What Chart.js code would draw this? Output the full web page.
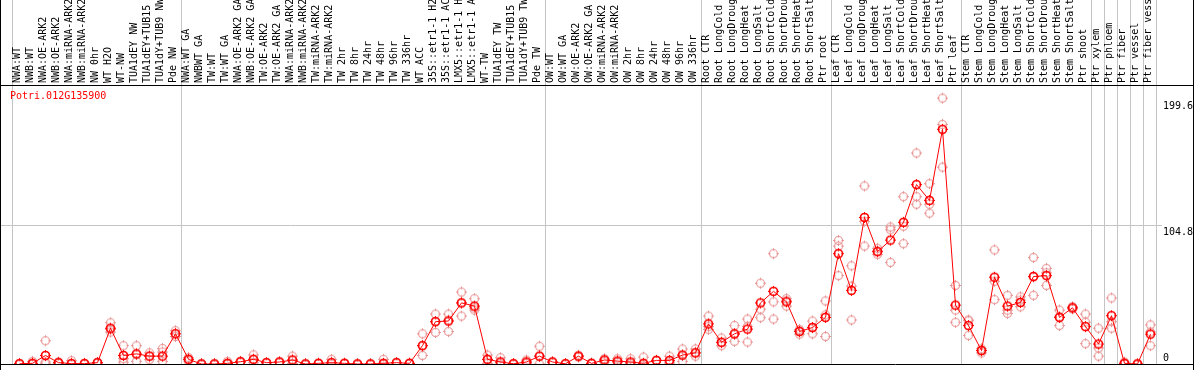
<!DOCTYPE html>
<html>
<head>
<meta charset="utf-8">
<script src="https://cdn.jsdelivr.net/npm/chart.js@4.4.1/dist/chart.umd.min.js"></script>
<style>
  body { margin: 0; background: #fff; }
  canvas { display: block; }
</style>
</head>
<body>
<canvas id="chart" width="1194" height="370"></canvas>
<script>
// sample names along the top
const categories = [
  'NWA:WT', 'NWB:WT', 'NWA:OE-ARK2', 'NWB:OE-ARK2', 'NWA:miRNA-ARK2', 'NWB:miRNA-ARK2', 'NW 0hr', 'WT H2O', 'WT-NW',
  'TUA1dEY NW', 'TUA1dEY+TUB15 NW', 'TUA1dY+TUB9 NW', 'Pde NW',
  'NWA:WT GA', 'NWBWT GA', 'TW:WT', 'TW:WT GA', 'NWA:OE-ARK2 GA', 'NWB:OE-ARK2 GA', 'TW:OE-ARK2', 'TW:OE-ARK2 GA',
  'NWA:miRNA-ARK2', 'NWB:miRNA-ARK2', 'TW:miRNA-ARK2', 'TW:miRNA-ARK2', 'TW 2hr', 'TW 8hr', 'TW 24hr', 'TW 48hr',
  'TW 96hr', 'TW 336hr', 'WT ACC', '35S::etr1-1 H2O', '35S::etr1-1 ACC', 'LMX5::etr1-1 H2O', 'LMX5::etr1-1 ACC',
  'WT-TW', 'TUA1dEY TW', 'TUA1dEY+TUB15 TW', 'TUA1dY+TUB9 TW', 'Pde TW',
  'OW:WT', 'OW:WT GA', 'OW:OE-ARK2', 'OW:OE-ARK2 GA', 'OW:miRNA-ARK2', 'OW:miRNA-ARK2', 'OW 2hr', 'OW 8hr', 'OW 24hr',
  'OW 48hr', 'OW 96hr', 'OW 336hr',
  'Root CTR', 'Root LongCold', 'Root LongDrought', 'Root LongHeat', 'Root LongSalt', 'Root ShortCold',
  'Root ShortDrought', 'Root ShortHeat', 'Root ShortSalt', 'Ptr root',
  'Leaf CTR', 'Leaf LongCold', 'Leaf LongDrought', 'Leaf LongHeat', 'Leaf LongSalt', 'Leaf ShortCold',
  'Leaf ShortDrought', 'Leaf ShortHeat', 'Leaf ShortSalt', 'Ptr leaf',
  'Stem CTR', 'Stem LongCold', 'Stem LongDrought', 'Stem LongHeat', 'Stem LongSalt', 'Stem ShortCold',
  'Stem ShortDrought', 'Stem ShortHeat', 'Stem ShortSalt', 'Ptr shoot',
  'Ptr xylem', 'Ptr phloem', 'Ptr fiber', 'Ptr vessel', 'Ptr fiber vessel'
];

// index where each grey separator line sits (before that sample)
const groupStarts = [0, 13, 41, 53, 63, 73, 83, 84, 85, 86, 87, 88];

// mean expression
const meanValues = [
  0.2, 0.5, 6.4, 1, 0.3, 0.3, 1, 26.9, 6.4, 7.6, 5.9, 5.9, 22.7,
  3.5, 0, 0, 0.5, 1.7, 3.5, 1, 1.5, 3, 0, 0.5, 1, 0.5, 0, 0, 0.5, 1, 0.5, 13.8, 31.8, 32.3, 45.9, 43.5, 3.5, 1.5, 0.2, 1.5, 5.9,
  1.5, 0.2, 5.9, 0.5, 3, 2.2, 1.5, 0.5, 2.7, 2.7, 6.7, 8.4,
  30.1, 16.3, 22.7, 26.2, 45.9, 54.6, 46.7, 24.4, 27.4, 35,
  82.9, 55.3, 110.1, 84.4, 93.1, 106.4, 134.8, 122.9, 176.3, 44.2,
  28.9, 10.1, 65.2, 43.5, 46.2, 65.7, 66.4, 35, 42.2, 28.1,
  15, 36.3, 0.5, 0, 22.4
];

// replicates
const rep1 = [
  0.3, 2, 17.5, 1.5, 2.5, 0.5, 1.2, 31, 13.8, 13.8, 8.4, 11.6, 25,
  4.8, 0, 0, 2, 2, 6.9, 1, 1.5, 5.9, 0, 0.5, 3.5, 0.5, 0, 0, 3.5, 1, 0.5, 22.7, 37.5, 37.5, 54, 49.1, 6.7, 4.7, 0.2, 3, 13.3,
  1.5, 0.2, 6.5, 0.5, 3.9, 3.9, 3.9, 5.2, 2.7, 5.9, 11.3, 11.3,
  36, 19.5, 28.9, 33.8, 60.7, 82.9, 49.1, 26, 32.3, 47.4,
  92.8, 73.8, 133.8, 86.9, 102.9, 125.7, 158.5, 135.5, 199.7, 59,
  33.1, 11.5, 85.7, 51.6, 50.4, 80, 71.8, 40.5, 43, 37.5,
  26.9, 49.6, 1.5, 0, 29.4
];
const rep2 = [
  0, 0, 1.5, 1, 0, 0, 1, 26, 4, 7, 6, 9, 22.7,
  3.5, 0, 0, 0, 1.7, 3.5, 1, 1.5, 3, 0, 0.5, 1, 0.5, 0, 0, 0, 1, 0.5, 13.8, 31.8, 33, 46, 42, 3.5, 1.5, 0.2, 1.5, 5.9,
  1.5, 0.2, 5.9, 0.5, 3, 1.5, 0.5, 0.5, 2.7, 1.5, 6.7, 8.4,
  28.1, 16, 22.2, 28.3, 41.2, 46.7, 47.5, 25, 27.4, 36.9,
  88.6, 58.5, 107.2, 84.9, 100.9, 103.5, 125.7, 120, 180, 40.5,
  32.5, 10.1, 62.2, 40.5, 48, 65.5, 68.5, 35.5, 42.2, 31.5,
  12, 31.8, 0.5, 0, 24
];
const rep3 = [
  0.2, 0, 0.2, 0.5, 0, 0.3, 0.8, 24, 1.4, 2, 3.3, 2, 20.7,
  2.2, 0, 0, 0, 1.4, 1, 1, 1.5, 0.5, 0, 0.5, 0, 0.5, 0, 0, 0, 1, 0.5, 6.4, 23.7, 24.4, 36, 40.5, 0.5, 0, 0.2, 0.5, 0,
  1.5, 0.2, 5.3, 0.5, 1.5, 1.2, 0.2, 0, 2.7, 0.7, 2, 5.9,
  26, 13.8, 17, 16.5, 34.8, 33.8, 43.5, 22.4, 22.7, 20.7,
  66.4, 33.1, 88.6, 82.4, 76.3, 90.4, 120, 113.3, 147.9, 31.3,
  21.5, 8.4, 48.4, 38, 43, 51.6, 59, 28.9, 41.4, 15.3,
  5.9, 26.9, 0, 0, 13.8
];

const yTicks = [0, 104.8, 199.6];
const geneName = 'Potri.012G135900';

const font = '10px "DejaVu Sans Mono", monospace';

// small ring with four ticks, used as point style
function makeMarker(color, lw) {
  const c = document.createElement('canvas');
  c.width = 13;
  c.height = 13;
  const g = c.getContext('2d');
  g.strokeStyle = color;
  g.lineWidth = lw;
  g.beginPath();
  g.arc(6.5, 6.5, 4, 0, Math.PI * 2);
  g.stroke();
  g.lineWidth = 1;
  g.beginPath();
  g.moveTo(6.5, 1); g.lineTo(6.5, 3.5);
  g.moveTo(6.5, 9.5); g.lineTo(6.5, 12);
  g.moveTo(1, 6.5); g.lineTo(3.5, 6.5);
  g.moveTo(9.5, 6.5); g.lineTo(12, 6.5);
  g.stroke();
  return c;
}

const meanMarker = makeMarker('#ff0000', 1.6);
const repMarker = makeMarker('#e99494', 1.1);

const framePlugin = {
  id: 'frame',
  beforeDatasetsDraw(chart) {
    const ctx = chart.ctx;
    const xs = chart.scales.x;
    const ys = chart.scales.y;
    const area = chart.chartArea;
    const colW = xs.getPixelForValue(1) - xs.getPixelForValue(0);
    const x0 = xs.getPixelForValue(0) - 8;

    ctx.save();
    ctx.strokeStyle = '#c4c4c4';
    ctx.lineWidth = 1;
    // vertical separators
    groupStarts.forEach(k => {
      const x = Math.round(x0 + colW * k) + 0.5;
      ctx.beginPath();
      ctx.moveTo(x, 0);
      ctx.lineTo(x, area.bottom);
      ctx.stroke();
    });
    // middle grid line
    const ym = Math.ceil(ys.getPixelForValue(104.8)) + 0.5;
    ctx.beginPath();
    ctx.moveTo(0, ym);
    ctx.lineTo(1162, ym);
    ctx.stroke();
    ctx.restore();
  },
  afterDatasetsDraw(chart) {
    const ctx = chart.ctx;
    const xs = chart.scales.x;
    const ys = chart.scales.y;
    const area = chart.chartArea;
    const W = chart.width;

    ctx.save();
    // frame lines
    ctx.strokeStyle = '#000';
    ctx.lineWidth = 1;
    ctx.beginPath();
    ctx.moveTo(0, area.top + 0.5); ctx.lineTo(W, area.top + 0.5);
    ctx.moveTo(0, area.bottom + 0.5); ctx.lineTo(W, area.bottom + 0.5);
    ctx.moveTo(0.5, 0); ctx.lineTo(0.5, chart.height);
    ctx.moveTo(W - 0.5, 0); ctx.lineTo(W - 0.5, chart.height);
    ctx.stroke();

    // sample labels, rotated
    ctx.font = font;
    ctx.fillStyle = '#000';
    ctx.textAlign = 'left';
    ctx.textBaseline = 'middle';
    categories.forEach((name, i) => {
      ctx.save();
      ctx.translate(xs.getPixelForValue(i) - 2.5, area.top - 2);
      ctx.rotate(-Math.PI / 2);
      ctx.fillText(name, 0, 0);
      ctx.restore();
    });

    // right axis values
    ctx.textBaseline = 'top';
    yTicks.forEach(v => {
      let y = ys.getPixelForValue(v) + 3;
      if (y > area.bottom - 11) y = area.bottom - 11;
      ctx.fillText(String(v), 1163, y);
    });

    // gene id
    ctx.fillStyle = '#ff0000';
    ctx.textBaseline = 'middle';
    ctx.fillText(geneName, 10, area.top + 11);
    ctx.restore();
  }
};

function repSet(values) {
  return {
    data: values,
    showLine: false,
    pointStyle: repMarker,
    pointRadius: 5,
    pointHoverRadius: 5,
    order: 2,
    clip: 0
  };
}

new Chart(document.getElementById('chart'), {
  type: 'line',
  data: {
    labels: categories,
    datasets: [
      {
        data: meanValues,
        borderColor: '#ff0000',
        borderWidth: 1,
        pointStyle: meanMarker,
        pointRadius: 5,
        pointHoverRadius: 5,
        tension: 0,
        order: 0,
        clip: 0
      },
      repSet(rep1),
      repSet(rep2),
      repSet(rep3)
    ]
  },
  options: {
    responsive: false,
    devicePixelRatio: 1,
    animation: false,
    layout: { padding: { left: 13, right: 37, top: 85, bottom: 2 } },
    plugins: {
      legend: { display: false },
      tooltip: { enabled: false }
    },
    scales: {
      x: { type: 'category', offset: true, display: false },
      y: { min: 0, max: 209.6, display: false }
    }
  },
  plugins: [framePlugin]
});
</script>
</body>
</html>
